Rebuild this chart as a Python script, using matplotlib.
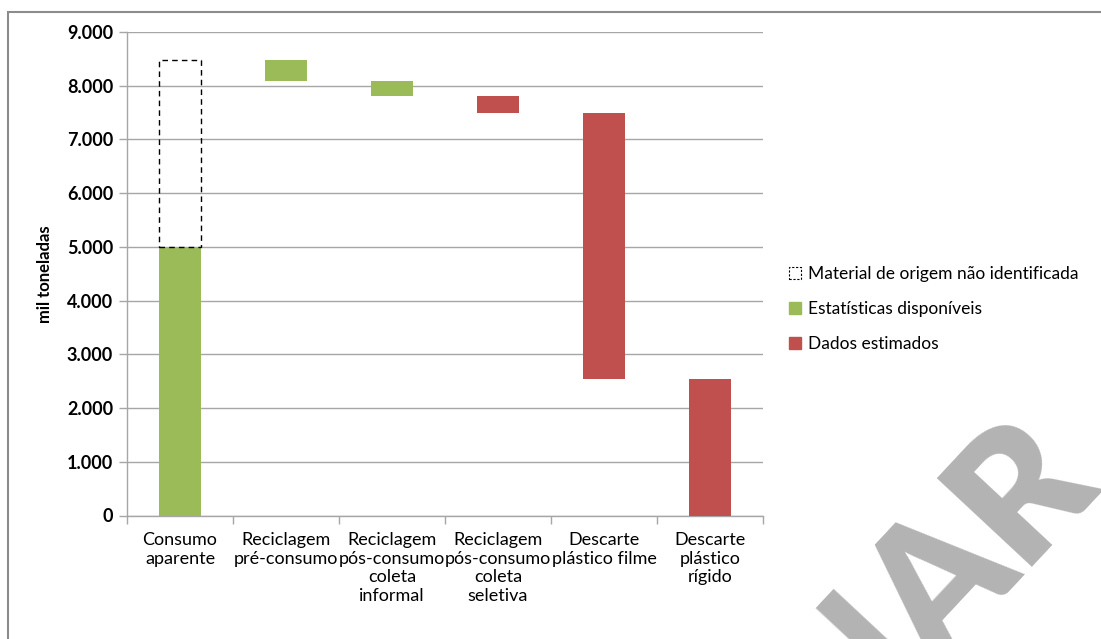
import matplotlib
matplotlib.use("Agg")
import matplotlib.pyplot as plt
from matplotlib.patches import Patch, Rectangle
from matplotlib.ticker import FuncFormatter, FixedLocator

# --- data (mil toneladas) ---
categorias = [
    "Consumo\naparente",
    "Reciclagem\npré-consumo",
    "Reciclagem\npós-consumo\ncoleta\ninformal",
    "Reciclagem\npós-consumo\ncoleta\nseletiva",
    "Descarte\nplástico filme",
    "Descarte\nplástico\nrígido",
]
consumo_identificado = 5000
consumo_total = 8470
fluxos = [380, 290, 300, 4950, 2550]
origem_fluxos = ["estat", "estat", "estim", "estim", "estim"]

VERDE = "#9bbb59"
VERMELHO = "#c0504d"
cor = {"estat": VERDE, "estim": VERMELHO}

plt.rcParams["font.family"] = ["Lato", "DejaVu Sans"]

fig = plt.figure(figsize=(11.01, 6.39), dpi=100)
ax = fig.add_axes([127 / 1101, 1 - 515.5 / 639, (763 - 127) / 1101, (515.5 - 32) / 639])

largura = 0.4

# Consumo aparente: identified part + unidentified remainder (dashed)
ax.bar(0, consumo_identificado, width=largura, color=VERDE, zorder=3)
ax.bar(0, consumo_total - consumo_identificado, bottom=consumo_identificado,
       width=largura, facecolor="none", edgecolor="black", linestyle=(0, (4, 3)),
       linewidth=1.0, zorder=3)

# Waterfall of destinations
topo = consumo_total
for i, (v, o) in enumerate(zip(fluxos, origem_fluxos), start=1):
    ax.bar(i, v, bottom=topo - v, width=largura, color=cor[o], zorder=3)
    topo -= v

ax.set_xlim(-0.5, len(categorias) - 0.5)
ax.set_ylim(0, 9000)
ax.set_yticks(range(0, 9001, 1000))
ax.yaxis.set_major_formatter(FuncFormatter(lambda v, p: f"{int(v):,}".replace(",", ".")))
ax.grid(axis="y", color="#a6a6a6", linewidth=1.0, zorder=0)

ax.xaxis.set_major_locator(FixedLocator([k - 0.5 for k in range(len(categorias) + 1)]))
ax.xaxis.set_major_formatter(FuncFormatter(lambda v, p: ""))
ax.xaxis.set_minor_locator(FixedLocator(range(len(categorias))))
ax.set_xticklabels(categorias, minor=True)
ax.tick_params(axis="x", which="minor", length=0, pad=12, labelsize=13)
ax.tick_params(axis="x", which="major", length=6, color="#a6a6a6", width=1)
ax.tick_params(axis="y", length=6, color="#a6a6a6", width=1, labelsize=13, pad=4)
for t in ax.get_yticklabels():
    t.set_fontweight("bold")

for s in ["top", "right"]:
    ax.spines[s].set_visible(False)
for s in ["left", "bottom"]:
    ax.spines[s].set_color("#a6a6a6")
    ax.spines[s].set_linewidth(1.0)

ax.set_ylabel("mil toneladas", fontsize=12, fontweight="bold", labelpad=10)

handles = [
    Patch(facecolor="white", edgecolor="black", linestyle=(0, (2, 1.5)), linewidth=0.8),
    Patch(facecolor=VERDE, edgecolor=VERDE),
    Patch(facecolor=VERMELHO, edgecolor=VERMELHO),
]
rotulos = ["Material de origem não identificada", "Estatísticas disponíveis", "Dados estimados"]
fig.legend(handles, rotulos, loc="center left", bbox_to_anchor=(782 / 1101, 1 - 309 / 639),
           frameon=False, fontsize=12.5, handlelength=0.7, handleheight=0.7,
           handletextpad=0.4, labelspacing=1.1, borderaxespad=0)

# Outer frame
fig.patches.append(Rectangle((8 / 1101, -0.1), 1.2, 1 - 11.5 / 639 + 0.1,
                             transform=fig.transFigure, fill=False,
                             edgecolor="#8c8c8c", linewidth=1.5))

# Watermark
fig.text(1100 / 1101, 1 - 480 / 639, "PRELIMINAR", fontsize=128, fontweight="heavy",
         color="#b3b3b3", rotation=47, rotation_mode="anchor", ha="right", va="baseline")

fig.savefig("out.png", dpi=100)
